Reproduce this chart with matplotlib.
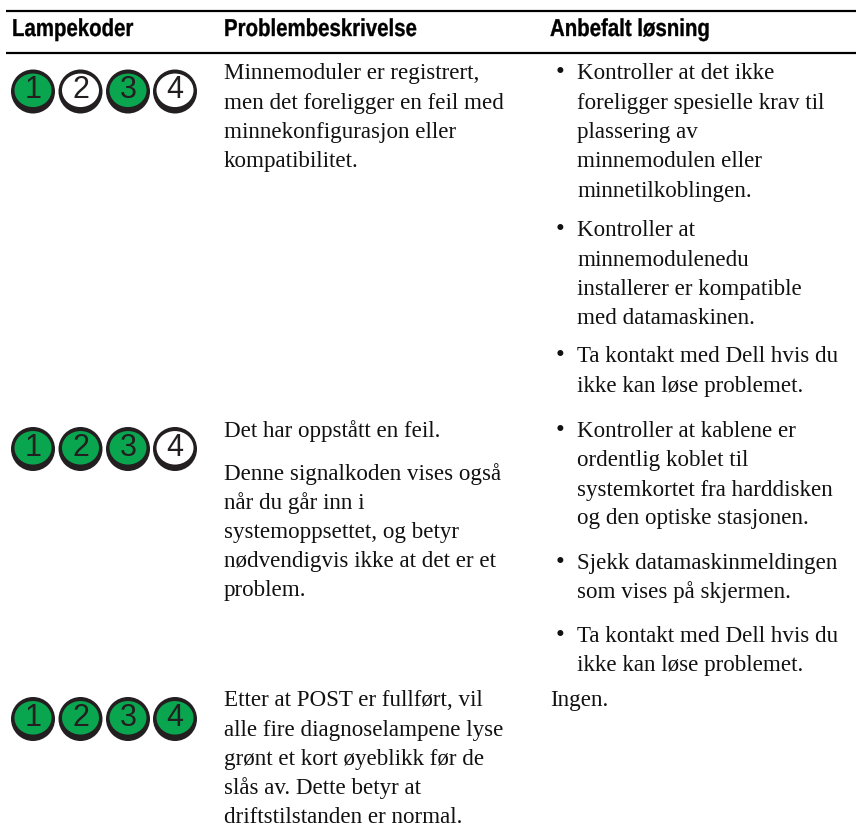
import matplotlib
matplotlib.use("Agg")
import matplotlib.pyplot as plt
from matplotlib.patches import Circle, Ellipse
from matplotlib.transforms import Affine2D
import matplotlib.patheffects as pe

W, H = 856, 836
GREEN = "#0aa64f"
DARK = "#231f20"

headers = ["Lampekoder", "Problembeskrivelse", "Anbefalt løsning"]
lamp_states = [[1, 0, 1, 0], [1, 1, 1, 0], [1, 1, 1, 1]]
lamp_labels = ["1", "2", "3", "4"]

problem_text = [
    "Minnemoduler er registrert,", "men det foreligger en feil med",
    "minnekonfigurasjon eller", "kompatibilitet.",
    "Det har oppstått en feil.",
    "Denne signalkoden vises også", "når du går inn i",
    "systemoppsettet, og betyr", "nødvendigvis ikke at det er et", "problem.",
    "Etter at POST er fullført, vil", "alle fire diagnoselampene lyse",
    "grønt et kort øyeblikk før de", "slås av. Dette betyr at",
    "driftstilstanden er normal.",
]
solution_text = [
    "Kontroller at det ikke", "foreligger spesielle krav til", "plassering av",
    "minnemodulen eller", "minnetilkoblingen.",
    "Kontroller at", "minnemodulenedu", "installerer er kompatible", "med datamaskinen.",
    "Ta kontakt med Dell hvis du", "ikke kan løse problemet.",
    "Kontroller at kablene er", "ordentlig koblet til",
    "systemkortet fra harddisken", "og den optiske stasjonen.",
    "Sjekk datamaskinmeldingen", "som vises på skjermen.",
    "Ta kontakt med Dell hvis du", "ikke kan løse problemet.",
    "Ingen.",
]
solution_bullets = [1, 0, 0, 0, 0, 1, 0, 0, 0, 1, 0, 1, 0, 0, 0, 1, 0, 1, 0, 0]

problem_y = [79, 109, 138, 167, 437, 480, 509, 538, 567, 596, 706, 736, 765, 794, 823]
solution_y = [79, 109, 138, 167, 197, 236, 266, 295, 324, 362, 392,
              437, 466, 496, 524, 569, 598, 642, 671, 706]
row_y = [91.5, 449, 719]
lamp_x = [33, 80.5, 128, 175]


class Condense(pe.AbstractPathEffect):
    """Draw real text narrower, as the reference's condensed bold face."""

    def __init__(self, x0, sx, lw):
        super().__init__()
        self.x0, self.sx, self.lw = x0, sx, lw

    def draw_path(self, renderer, gc, tpath, affine, rgbFace=None):
        squeeze = Affine2D().translate(-self.x0, 0).scale(self.sx, 1).translate(self.x0, 0)
        gc0 = renderer.new_gc()
        gc0.copy_properties(gc)
        gc0.set_linewidth(self.lw)
        gc0.set_foreground("black")
        renderer.draw_path(gc0, tpath, affine + squeeze, rgbFace)
        gc0.restore()


fig = plt.figure(figsize=(W / 100, H / 100), dpi=100)
ax = fig.add_axes([0, 0, 1, 1])
ax.set_xlim(0, W)
ax.set_ylim(H, 0)
ax.axis("off")

ax.plot([6, W], [10.5, 10.5], color="black", lw=1.6, solid_capstyle="butt")
ax.plot([6, W], [52.5, 52.5], color="black", lw=1.6, solid_capstyle="butt")

for x, h in zip([12, 224, 550], headers):
    ax.text(x, 36, h, family="Liberation Sans", weight="bold", fontsize=17.6, color="black",
            va="baseline", path_effects=[Condense(x, 0.835, 0.25)])

for y, states in zip(row_y, lamp_states):
    for x, s, lab in zip(lamp_x, states, lamp_labels):
        ax.add_patch(Circle((x, y), 22, fc=DARK, ec="none"))
        ax.add_patch(Ellipse((x, y - 1.2), 37, 33.5, fc=GREEN if s else "white", ec="none"))
        ax.text(x, y + 7, lab, family="Liberation Sans", fontsize=22, color=DARK,
                ha="center", va="baseline")

for y, t in zip(problem_y, problem_text):
    ax.text(224, y, t, family="Liberation Serif", fontsize=16.6, color="#111111", va="baseline")

for y, t, b in zip(solution_y, solution_text, solution_bullets):
    x = 577 if t != "Ingen." else 550
    ax.text(x, y, t, family="Liberation Serif", fontsize=16.6, color="#111111", va="baseline")
    if b:
        ax.text(555.5, y, "•", family="Liberation Serif", fontsize=18, color="#111111", va="baseline")

fig.savefig("out.png", dpi=100)
